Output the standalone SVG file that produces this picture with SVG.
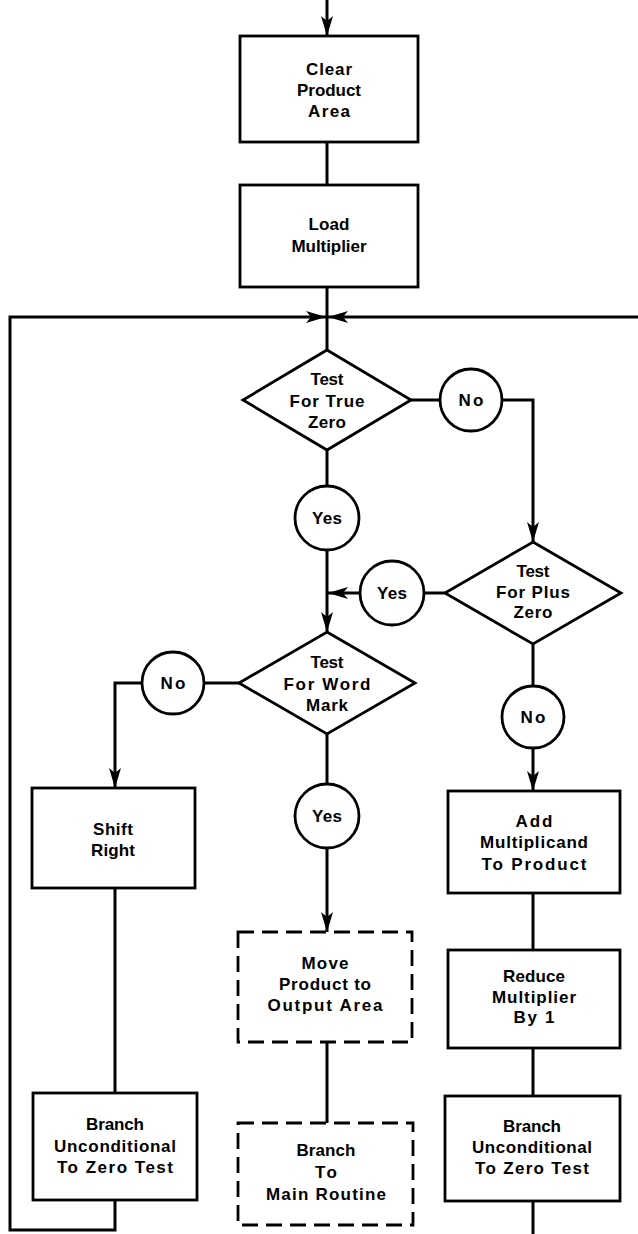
<svg xmlns="http://www.w3.org/2000/svg" width="638" height="1234" viewBox="0 0 638 1234">
<style>
.box{fill:#fff;stroke:#000;stroke-width:2.8}
.dash{fill:#fff;stroke:#000;stroke-width:2.8;stroke-dasharray:16 8}
.con{fill:none;stroke:#000;stroke-width:3}
.t{font-family:"Liberation Sans",Arial,sans-serif;font-weight:bold;font-size:17px;text-anchor:middle;fill:#000}
</style>
<defs>
<marker id="ah" viewBox="0 0 20 12" refX="20" refY="6" markerWidth="20" markerHeight="12" markerUnits="userSpaceOnUse" orient="auto">
<path d="M0,0 L20,6 L0,12 L5,6 Z" fill="#000"/>
</marker>
</defs>
<rect width="638" height="1234" fill="#fff"/>
<g id="connectors">
<path class="con" d="M327,0 L327,36" marker-end="url(#ah)"/>
<path class="con" d="M327,142 L327,185"/>
<path class="con" d="M327,287 L327,350"/>
<path class="con" d="M115,1200 L115,1230 L10,1230 L10,317 L326,317" marker-end="url(#ah)"/>
<path class="con" d="M638,317 L328,317" marker-end="url(#ah)"/>
<path class="con" d="M411,400 L440,400"/>
<path class="con" d="M502,400 L533,400 L533,542" marker-end="url(#ah)"/>
<path class="con" d="M327,450 L327,486"/>
<path class="con" d="M327,550 L327,632" marker-end="url(#ah)"/>
<path class="con" d="M445,593 L424,593"/>
<path class="con" d="M360,593 L328,593" marker-end="url(#ah)"/>
<path class="con" d="M533,644 L533,686"/>
<path class="con" d="M533,748 L533,791" marker-end="url(#ah)"/>
<path class="con" d="M239,683 L204,683"/>
<path class="con" d="M142,683 L115,683 L115,788" marker-end="url(#ah)"/>
<path class="con" d="M327,734 L327,784"/>
<path class="con" d="M327,848 L327,932" marker-end="url(#ah)"/>
<path class="con" d="M115,888 L115,1093"/>
<path class="con" d="M327,1042 L327,1123"/>
<path class="con" d="M533,893 L533,950"/>
<path class="con" d="M533,1048 L533,1096"/>
<path class="con" d="M533,1201 L533,1234"/>
</g>
<g id="clear-product-area">
<rect class="box" x="240" y="36" width="178" height="106"/>
<text class="t" x="329" y="75" textLength="46" lengthAdjust="spacing">Clear</text>
<text class="t" x="329" y="96" textLength="64" lengthAdjust="spacing">Product</text>
<text class="t" x="329" y="117" textLength="42" lengthAdjust="spacing">Area</text>
</g>
<g id="load-multiplier">
<rect class="box" x="240" y="185" width="178" height="102"/>
<text class="t" x="329" y="230" textLength="41" lengthAdjust="spacing">Load</text>
<text class="t" x="329" y="252" textLength="75" lengthAdjust="spacing">Multiplier</text>
</g>
<g id="test-true-zero">
<polygon class="box" points="327,350 411,400 327,450 243,400"/>
<text class="t" x="327" y="385" textLength="33" lengthAdjust="spacing">Test</text>
<text class="t" x="327" y="407" textLength="75" lengthAdjust="spacing">For True</text>
<text class="t" x="327" y="428" textLength="38" lengthAdjust="spacing">Zero</text>
</g>
<g id="no-true-zero">
<circle class="box" cx="471" cy="400" r="31"/>
<text class="t" x="471" y="406" textLength="25" lengthAdjust="spacing">No</text>
</g>
<g id="yes-true-zero">
<circle class="box" cx="327" cy="518" r="32"/>
<text class="t" x="327" y="524" textLength="30" lengthAdjust="spacing">Yes</text>
</g>
<g id="test-plus-zero">
<polygon class="box" points="533,542 621,593 533,644 445,593"/>
<text class="t" x="533" y="577" textLength="33" lengthAdjust="spacing">Test</text>
<text class="t" x="533" y="598" textLength="74" lengthAdjust="spacing">For Plus</text>
<text class="t" x="533" y="618" textLength="39" lengthAdjust="spacing">Zero</text>
</g>
<g id="yes-plus-zero">
<circle class="box" cx="392" cy="593" r="32"/>
<text class="t" x="392" y="599" textLength="30" lengthAdjust="spacing">Yes</text>
</g>
<g id="no-plus-zero">
<circle class="box" cx="533" cy="717" r="31"/>
<text class="t" x="533" y="723" textLength="25" lengthAdjust="spacing">No</text>
</g>
<g id="test-word-mark">
<polygon class="box" points="327,632 415,683 327,734 239,683"/>
<text class="t" x="327" y="668" textLength="33" lengthAdjust="spacing">Test</text>
<text class="t" x="327" y="690" textLength="87" lengthAdjust="spacing">For Word</text>
<text class="t" x="327" y="711" textLength="42" lengthAdjust="spacing">Mark</text>
</g>
<g id="no-word-mark">
<circle class="box" cx="173" cy="683" r="31"/>
<text class="t" x="173" y="689" textLength="25" lengthAdjust="spacing">No</text>
</g>
<g id="yes-word-mark">
<circle class="box" cx="327" cy="816" r="32"/>
<text class="t" x="327" y="822" textLength="30" lengthAdjust="spacing">Yes</text>
</g>
<g id="shift-right">
<rect class="box" x="32" y="788" width="163" height="100"/>
<text class="t" x="113" y="835" textLength="40" lengthAdjust="spacing">Shift</text>
<text class="t" x="113" y="856" textLength="44" lengthAdjust="spacing">Right</text>
</g>
<g id="branch-left">
<rect class="box" x="33" y="1093" width="164" height="107"/>
<text class="t" x="115" y="1130" textLength="58" lengthAdjust="spacing">Branch</text>
<text class="t" x="115" y="1152" textLength="122" lengthAdjust="spacing">Unconditional</text>
<text class="t" x="115" y="1173" textLength="116" lengthAdjust="spacing">To Zero Test</text>
</g>
<g id="move-product">
<rect class="dash" x="238" y="932" width="174" height="110"/>
<text class="t" x="325" y="969" textLength="47" lengthAdjust="spacing">Move</text>
<text class="t" x="325" y="990" textLength="92" lengthAdjust="spacing">Product to</text>
<text class="t" x="325" y="1011" textLength="115" lengthAdjust="spacing">Output Area</text>
</g>
<g id="branch-main">
<rect class="dash" x="238" y="1123" width="175" height="102"/>
<text class="t" x="326" y="1156" textLength="59" lengthAdjust="spacing">Branch</text>
<text class="t" x="326" y="1178" textLength="22" lengthAdjust="spacing">To</text>
<text class="t" x="326" y="1200" textLength="120" lengthAdjust="spacing">Main Routine</text>
</g>
<g id="add-multiplicand">
<rect class="box" x="448" y="791" width="172" height="102"/>
<text class="t" x="534" y="827" textLength="37" lengthAdjust="spacing">Add</text>
<text class="t" x="534" y="848" textLength="108" lengthAdjust="spacing">Multiplicand</text>
<text class="t" x="534" y="870" textLength="105" lengthAdjust="spacing">To Product</text>
</g>
<g id="reduce-multiplier">
<rect class="box" x="448" y="950" width="172" height="98"/>
<text class="t" x="534" y="982" textLength="62" lengthAdjust="spacing">Reduce</text>
<text class="t" x="534" y="1003" textLength="84" lengthAdjust="spacing">Multiplier</text>
<text class="t" x="534" y="1023" textLength="41" lengthAdjust="spacing">By 1</text>
</g>
<g id="branch-right">
<rect class="box" x="445" y="1096" width="175" height="105"/>
<text class="t" x="532" y="1132" textLength="58" lengthAdjust="spacing">Branch</text>
<text class="t" x="532" y="1153" textLength="120" lengthAdjust="spacing">Unconditional</text>
<text class="t" x="532" y="1174" textLength="114" lengthAdjust="spacing">To Zero Test</text>
</g>
</svg>
